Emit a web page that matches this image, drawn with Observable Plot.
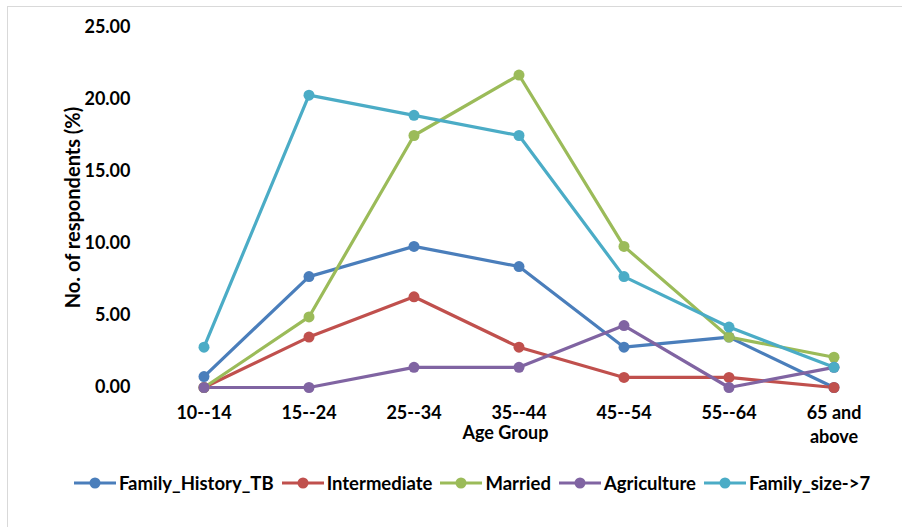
<!DOCTYPE html>
<html>
<head>
<meta charset="utf-8">
<script src="https://cdn.jsdelivr.net/npm/d3@7"></script>
<script src="https://cdn.jsdelivr.net/npm/@observablehq/plot@0.6"></script>
<style>
  html, body { margin: 0; padding: 0; background: #fff; }
  body { width: 902px; height: 527px; overflow: hidden; position: relative; font-family: Lato, "Open Sans", sans-serif; }
  #frame { position: absolute; left: 7px; top: 6px; width: 920px; height: 540px;
           border-left: 1.5px solid #d9d9d9; border-top: 1.5px solid #d9d9d9; }
  #chart { position: absolute; left: 0; top: 0; }
  #legend { position: absolute; left: 0; top: 470px; width: 952px; height: 26px; display: flex; justify-content: center;
            align-items: center; font-weight: 700; font-size: 18.5px; color: #000; }
  .item { display: flex; align-items: center; margin-right: 8px; }
  .item svg { margin-right: 3px; }
</style>
</head>
<body>
<div id="frame"></div>
<div id="chart"></div>
<div id="legend"></div>
<script>
// Age groups along the x axis
const ageGroups = ["10--14", "15--24", "25--34", "35--44", "45--54", "55--64", "65 and above"];
const tickLabels = ["10--14", "15--24", "25--34", "35--44", "45--54", "55--64", "65 and\nabove"];

// Series: share of respondents (%) in each age group
const seriesNames = ["Family_History_TB", "Intermediate", "Married", "Agriculture", "Family_size->7"];
const familyHistoryTB = [0.76, 7.7, 9.8, 8.4, 2.8, 3.5, 0.0];
const intermediate    = [0.0, 3.5, 6.3, 2.8, 0.7, 0.7, 0.0];
const married         = [0.0, 4.9, 17.5, 21.7, 9.8, 3.5, 2.1];
const agriculture     = [0.0, 0.0, 1.4, 1.4, 4.3, 0.0, 1.4];
const familySize7     = [2.8, 20.3, 18.9, 17.5, 7.7, 4.2, 1.4];
const seriesColors = ["#4a7ebb", "#c0504d", "#9bbb59", "#8064a2", "#4bacc6"];

const yTicks = [0, 5, 10, 15, 20, 25];
const xTitle = "Age Group";
const yTitle = "No. of respondents (%)";

const seriesValues = [familyHistoryTB, intermediate, married, agriculture, familySize7];
const rows = seriesNames.flatMap((name, s) =>
  ageGroups.map((age, i) => ({series: name, age, value: seriesValues[s][i]})));

const plot = Plot.plot({
  width: 902,
  height: 465,
  marginTop: 27,
  marginBottom: 78,
  marginLeft: 150,
  marginRight: 16,
  style: {fontFamily: "Lato, 'Open Sans', sans-serif", fontSize: "18px", fontWeight: "700", color: "#000", background: "transparent"},
  x: {type: "band", domain: ageGroups, padding: 0, label: null},
  y: {domain: [0, 25], label: null},
  color: {domain: seriesNames, range: seriesColors},
  marks: [
    Plot.ruleY(yTicks, {x1: ageGroups[0], x2: ageGroups[ageGroups.length - 1], stroke: "#d9d9d9", strokeWidth: 1.3,
      insetLeft: -52.5, insetRight: -52.5}),
    Plot.axisY(yTicks, {tickSize: 0, tickPadding: 20, tickFormat: d3.format(".2f"), label: null, fontSize: 18}),
    Plot.axisX({tickSize: 0, tickPadding: 14, tickFormat: (d) => tickLabels[ageGroups.indexOf(d)], label: null, fontSize: 18, lineHeight: 1.35}),
    Plot.text([yTitle], {frameAnchor: "left", textAnchor: "middle", rotate: -90, dx: -77, fontSize: 20}),
    Plot.text([xTitle], {frameAnchor: "bottom", textAnchor: "middle", dx: -13, dy: 51, fontSize: 18}),
    Plot.line(rows, {x: "age", y: "value", z: "series", stroke: "series", strokeWidth: 3.2, curve: "linear"}),
    Plot.dot(rows, {x: "age", y: "value", fill: "series", r: 5.5})
  ]
});
document.getElementById("chart").appendChild(plot);

// Legend below the plot
const legend = document.getElementById("legend");
seriesNames.forEach((name, i) => {
  const item = document.createElement("div");
  item.className = "item";
  item.innerHTML = `<svg width="42" height="14"><line x1="0" x2="42" y1="7" y2="7" stroke="${seriesColors[i]}" stroke-width="3.2"/>` +
    `<circle cx="21" cy="7" r="5.5" fill="${seriesColors[i]}"/></svg><span>${name.replace(">", "&gt;")}</span>`;
  legend.appendChild(item);
});
</script>
</body>
</html>
